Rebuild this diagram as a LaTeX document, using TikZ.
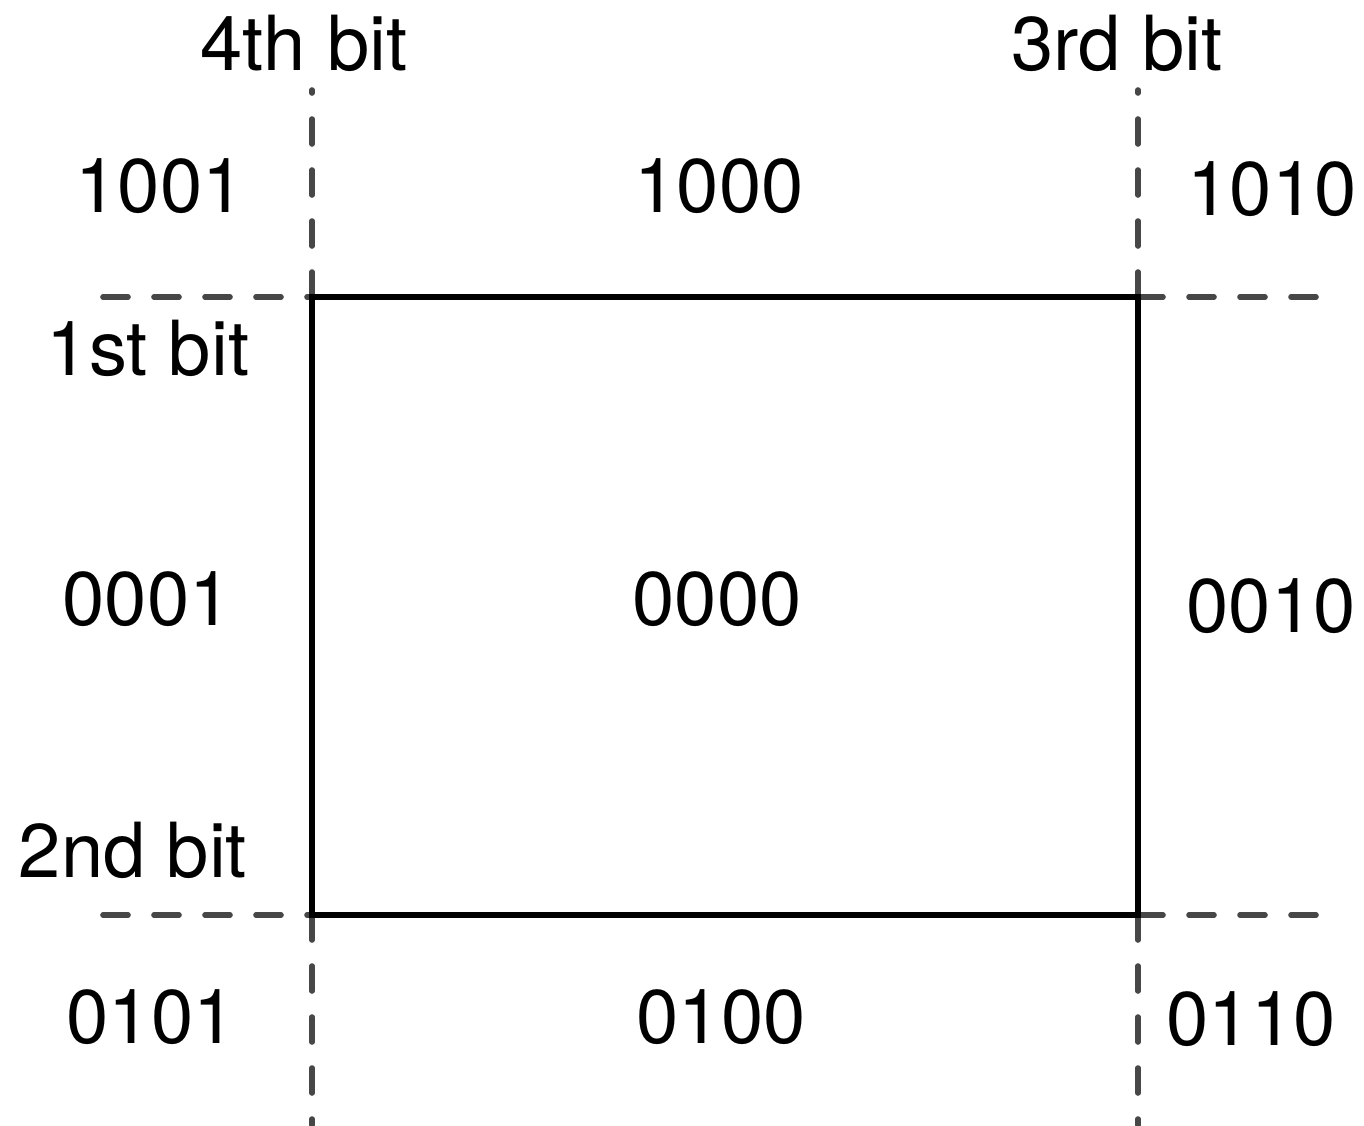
\documentclass[tikz,border=0pt]{standalone}
\usepackage{fontspec}
\setmainfont{TeX Gyre Heros}
\begin{document}
\begin{tikzpicture}[x=0.5pt,y=-0.5pt,
  lbl/.style={anchor=base,inner sep=0pt,font=\fontsize{38}{46}\selectfont},
  guide/.style={draw=black!72,line width=2.8pt,line cap=round,dash pattern=on 12.5pt off 13pt},
  region/.style={draw=black,line width=3pt}]
\useasboundingbox (0,0) rectangle (1364,1125);
\coordinate (tl) at (312,297);
\coordinate (tr) at (1138,297);
\coordinate (bl) at (312,915);
\coordinate (br) at (1138,915);
\coordinate (ltop) at (312,90);
\coordinate (rtop) at (1138,90);
\coordinate (lbot) at (312,1125);
\coordinate (rbot) at (1138,1125);
\coordinate (tleft) at (103,297);
\coordinate (tright) at (1322,297);
\coordinate (bleft) at (103,915);
\coordinate (bright) at (1322,915);
\draw[guide] (tl) -- (ltop);
\draw[guide] (tr) -- (rtop);
\draw[guide] (bl) -- (lbot);
\draw[guide] (br) -- (rbot);
\draw[guide] (tleft) -- (tl);
\draw[guide] (tr) -- (tright);
\draw[guide] (bleft) -- (bl);
\draw[guide] (br) -- (bright);
\draw[region] (tl) -- (tr) -- (br) -- (bl) -- cycle;
\node[lbl] (b4) at (304,70) {4th bit};
\node[lbl] (b3) at (1117,70) {3rd bit};
\node[lbl] (b1) at (148,375) {1st bit};
\node[lbl] (b2) at (133,877) {2nd bit};
\node[lbl] (c1001) at (160,212) {1001};
\node[lbl] (c1000) at (719,212) {1000};
\node[lbl] (c1010) at (1272,215) {1010};
\node[lbl] (c0001) at (147,625) {0001};
\node[lbl] (c0000) at (717,625) {0000};
\node[lbl] (c0010) at (1271,632) {0010};
\node[lbl] (c0101) at (151,1043) {0101};
\node[lbl] (c0100) at (721,1043) {0100};
\node[lbl] (c0110) at (1251,1045) {0110};
\end{tikzpicture}
\end{document}
